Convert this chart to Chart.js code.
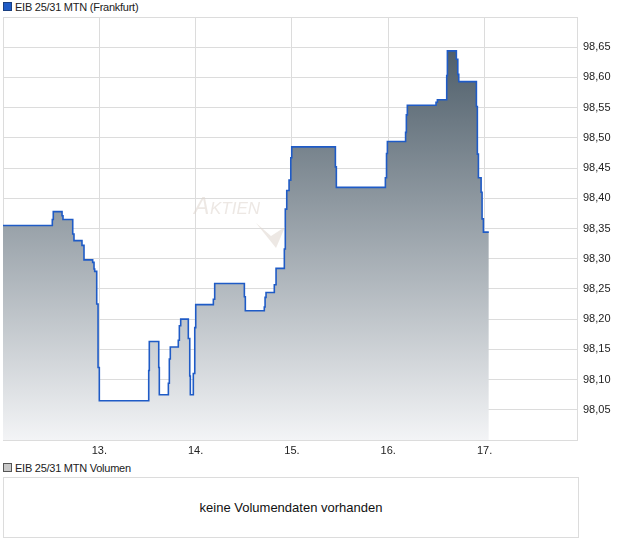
<!DOCTYPE html>
<html>
<head>
<meta charset="utf-8">
<script src="https://cdn.jsdelivr.net/npm/chart.js@4/dist/chart.umd.min.js"></script>
<style>
  body { margin: 0; background: #fff; font-family: "Liberation Sans", Arial, sans-serif; }
  #wrap { position: relative; width: 620px; height: 546px; }
  .legend { position: absolute; left: 3px; font-size: 11px; letter-spacing: -0.25px; color: #222; line-height: 12px; }
  .legend span.box { display: inline-block; width: 7px; height: 7px; margin-right: 3px; }
  #chartBox { position: absolute; left: 0; top: 0; width: 620px; height: 462px; }
  #volBox { position: absolute; left: 3px; top: 477px; width: 574px; height: 59px; border: 1px solid #dcdcdc;
    font-size: 13px; color: #111; text-align: center; line-height: 59px; }
</style>
</head>
<body>
<div id="wrap">
  <div class="legend" style="top:1px"><span class="box" style="background:#1f5bc6;border:1px solid #1a3f80"></span>EIB 25/31 MTN (Frankfurt)</div>
  <div id="chartBox"><canvas id="priceChart"></canvas></div>
  <div class="legend" style="top:462px"><span class="box" style="background:#c8c8c8;border:1px solid #555"></span>EIB 25/31 MTN Volumen</div>
  <div id="volBox">keine Volumendaten vorhanden</div>
</div>
<script>
// Kursdaten (Tag als Dezimalzahl, Kurs)
const tage = [12.000, 12.512, 12.522, 12.613, 12.623, 12.724, 12.737, 12.820, 12.841, 12.931,
  12.945, 12.952, 12.973, 12.987, 13.000, 13.513, 13.519, 13.617, 13.623, 13.717,
  13.727, 13.737, 13.820, 13.831, 13.845, 13.924, 13.939, 13.945, 13.976, 13.991,
  14.001, 14.184, 14.198, 14.506, 14.516, 14.713, 14.721, 14.731, 14.817, 14.835,
  14.921, 14.931, 14.946, 14.970, 14.988, 14.998, 15.451, 15.461, 15.970, 15.982,
  15.991, 16.180, 16.188, 16.198, 16.496, 16.510, 16.607, 16.614, 16.707, 16.722,
  16.732, 16.915, 16.925, 16.936, 16.964, 16.974, 16.988, 17.044];
const kurse = [98.355, 98.365, 98.378, 98.371, 98.365, 98.341, 98.330, 98.322, 98.298, 98.294,
  98.283, 98.279, 98.225, 98.120, 98.065, 98.115, 98.163, 98.120, 98.075, 98.094,
  98.134, 98.154, 98.165, 98.189, 98.200, 98.168, 98.106, 98.075, 98.110, 98.186,
  98.224, 98.233, 98.259, 98.237, 98.214, 98.220, 98.236, 98.244, 98.257, 98.284,
  98.316, 98.382, 98.413, 98.430, 98.467, 98.485, 98.452, 98.418, 98.434, 98.474,
  98.494, 98.509, 98.538, 98.554, 98.559, 98.563, 98.603, 98.644, 98.630, 98.605,
  98.593, 98.552, 98.473, 98.434, 98.410, 98.366, 98.344, 98.344];

const xTicks = [13, 14, 15, 16, 17];
const yTicks = [98.05, 98.10, 98.15, 98.20, 98.25, 98.30, 98.35, 98.40, 98.45, 98.50, 98.55, 98.60, 98.65];

document.addEventListener("DOMContentLoaded", function () {
  const ctx = document.getElementById("priceChart").getContext("2d");

  // Rahmen um die Zeichenfläche + Wasserzeichen
  const frame = {
    id: "frame",
    beforeDatasetsDraw(chart) {
      const a = chart.chartArea, c = chart.ctx;
      c.save();
      c.strokeStyle = "#dcdcdc";
      c.lineWidth = 1;
      c.strokeRect(a.left + 0.5, a.top + 0.5, a.right - a.left - 1, a.bottom - a.top);
      c.restore();
    },
    afterDatasetsDraw(chart) {
      const c = chart.ctx;
      c.save();
      c.fillStyle = "rgba(222, 214, 206, 0.55)";
      c.font = "italic 23px 'Liberation Sans', Arial, sans-serif";
      c.fillText("A", 194, 214);
      c.font = "italic 17px 'Liberation Sans', Arial, sans-serif";
      c.fillText("KTIEN", 210, 214);
      c.beginPath();
      c.moveTo(256, 223);
      c.lineTo(271, 236);
      c.lineTo(285, 227);
      c.lineTo(276, 248);
      c.closePath();
      c.fill();
      c.restore();
    }
  };

  new Chart(ctx, {
    type: "line",
    data: {
      datasets: [{
        label: "EIB 25/31 MTN (Frankfurt)",
        data: tage.map((t, i) => ({ x: t, y: kurse[i] })),
        stepped: true,
        borderColor: "#1f5bc6",
        borderWidth: 1.6,
        pointRadius: 0,
        fill: "start",
        backgroundColor: function (context) {
          const area = context.chart.chartArea;
          if (!area) return "rgba(150,160,170,0.6)";
          const g = context.chart.ctx.createLinearGradient(0, area.top + 25, 0, area.bottom);
          g.addColorStop(0, "#4b5b67");
          g.addColorStop(1, "#f3f4f6");
          return g;
        }
      }]
    },
    options: {
      responsive: true,
      maintainAspectRatio: false,
      animation: false,
      layout: { padding: { top: 17, left: 3, right: 0, bottom: 0 } },
      plugins: { legend: { display: false }, tooltip: { enabled: false } },
      scales: {
        x: {
          type: "linear",
          min: 12,
          max: 17.97,
          afterBuildTicks: (axis) => { axis.ticks = xTicks.map((v) => ({ value: v })); },
          afterFit: (axis) => { axis.height = 22; },
          grid: { color: "#dcdcdc", drawTicks: false },
          border: { display: false },
          ticks: {
            padding: 4,
            color: "#222",
            font: { family: "'Liberation Sans', Arial, sans-serif", size: 11 },
            callback: (v) => v + "."
          }
        },
        y: {
          position: "right",
          min: 98.0,
          max: 98.7,
          afterBuildTicks: (axis) => { axis.ticks = yTicks.map((v) => ({ value: v })); },
          afterFit: (axis) => { axis.width = 42; },
          grid: { color: "#dcdcdc", drawTicks: false },
          border: { display: false },
          ticks: {
            padding: 5,
            color: "#222",
            font: { family: "'Liberation Sans', Arial, sans-serif", size: 11 },
            callback: (v) => v.toFixed(2).replace(".", ",")
          }
        }
      }
    },
    plugins: [frame]
  });
});
</script>
</body>
</html>
